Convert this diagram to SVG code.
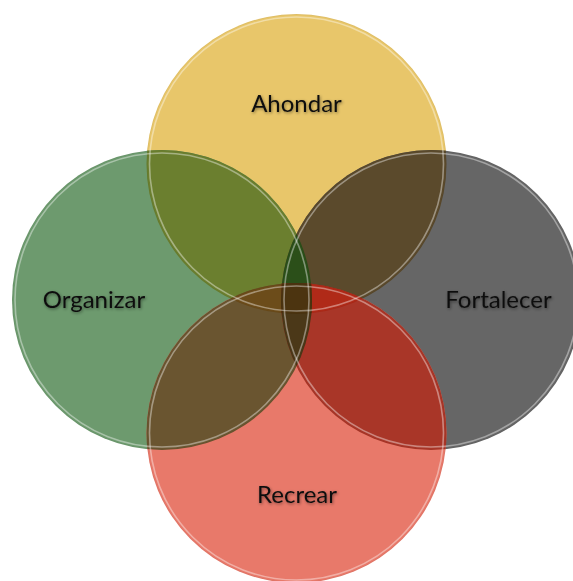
<svg xmlns="http://www.w3.org/2000/svg" width="573" height="581" viewBox="0 0 573 581">
<defs>
<style>
.lbl{font-family:Lato,"Open Sans","Liberation Sans",sans-serif;font-size:24px;fill:#111;text-anchor:middle;filter:url(#ts)}
.rim{fill:none;stroke:#fff;stroke-opacity:0.4;stroke-width:1.6}
.edge{fill:none;stroke:#000;stroke-opacity:0.04;stroke-width:1}
</style>
<filter id="ts" x="-20%" y="-40%" width="140%" height="180%">
<feDropShadow dx="0.8" dy="1.2" stdDeviation="1.4" flood-color="#000" flood-opacity="0.45"/>
</filter>
<clipPath id="cY"><circle cx="296.5" cy="164" r="150"/></clipPath>
<clipPath id="cG"><circle cx="162" cy="300" r="150"/></clipPath>
<clipPath id="cK"><circle cx="431" cy="300" r="150"/></clipPath>
<clipPath id="cR"><circle cx="296.5" cy="433" r="150"/></clipPath>
</defs>
<rect width="573" height="581" fill="#fff"/>
<g id="node-ahondar">
<circle cx="296.5" cy="164" r="150" fill="#E8C66A"/>
<text class="lbl" x="296.5" y="112">Ahondar</text>
</g>
<g id="node-organizar">
<circle cx="162" cy="300" r="150" fill="#6D9A6E"/>
<text class="lbl" x="94" y="308">Organizar</text>
</g>
<g id="node-fortalecer">
<circle cx="431" cy="300" r="150" fill="#666666"/>
<text class="lbl" x="498.5" y="308">Fortalecer</text>
</g>
<g id="node-recrear">
<circle cx="296.5" cy="433" r="150" fill="#E8796A"/>
<text class="lbl" x="297" y="503">Recrear</text>
</g>
<g id="overlaps">
<g clip-path="url(#cY)"><circle cx="162" cy="300" r="150" fill="#6B7F2F"/></g>
<g clip-path="url(#cY)"><circle cx="431" cy="300" r="150" fill="#5B4A2C"/></g>
<g clip-path="url(#cG)"><circle cx="296.5" cy="433" r="150" fill="#6A5530"/></g>
<g clip-path="url(#cK)"><circle cx="296.5" cy="433" r="150" fill="#A93628"/></g>
<g clip-path="url(#cY)"><g clip-path="url(#cG)"><circle cx="431" cy="300" r="150" fill="#2B4F19"/></g></g>
<g clip-path="url(#cY)"><g clip-path="url(#cG)"><circle cx="296.5" cy="433" r="150" fill="#6C4C1A"/></g></g>
<g clip-path="url(#cY)"><g clip-path="url(#cK)"><circle cx="296.5" cy="433" r="150" fill="#B02A18"/></g></g>
<g clip-path="url(#cG)"><g clip-path="url(#cK)"><circle cx="296.5" cy="433" r="150" fill="#4B3818"/></g></g>
<g clip-path="url(#cY)"><g clip-path="url(#cG)"><g clip-path="url(#cK)"><circle cx="296.5" cy="433" r="150" fill="#4C3410"/></g></g></g>
</g>
<g id="rims">
<circle class="edge" cx="296.5" cy="164" r="149.5"/>
<circle class="edge" cx="162" cy="300" r="149.5"/>
<circle class="edge" cx="431" cy="300" r="149.5"/>
<circle class="edge" cx="296.5" cy="433" r="149.5"/>
<circle class="rim" cx="296.5" cy="164" r="147"/>
<circle class="rim" cx="162" cy="300" r="147"/>
<circle class="rim" cx="431" cy="300" r="147"/>
<circle class="rim" cx="296.5" cy="433" r="147"/>
</g>
</svg>
